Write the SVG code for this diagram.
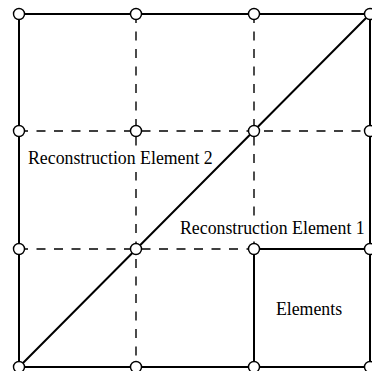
<svg xmlns="http://www.w3.org/2000/svg" width="372" height="371" viewBox="0 0 372 371">
<style>
.solid{stroke:#000;stroke-width:2;fill:none;stroke-linecap:butt}
.dash{stroke:#000;stroke-width:1.4;fill:none;stroke-dasharray:9 8.5}
.pt{fill:#fff;stroke:#000;stroke-width:1.4}
.lbl{font-family:"Liberation Serif","Times New Roman",serif;font-size:17.8px;fill:#000}
.bg{fill:#fff;stroke:none}
</style>
<rect width="372" height="371" fill="#fff"/>
<g id="connectors">
<path class="dash" d="M19 131H370M19 249H254M136 14V367M254 14V249"/>
<rect class="bg" x="25" y="146" width="192" height="26"/>
<rect class="bg" x="177" y="216" width="189" height="25"/>
<path class="solid" d="M19 14H370V367H19ZM254 249H370M254 249V367M19 367L370 14"/>
</g>
<g id="labels">
<text id="re2" class="lbl" x="28" y="164">Reconstruction Element 2</text>
<text id="re1" class="lbl" x="180" y="233.5">Reconstruction Element 1</text>
<text id="elements" class="lbl" x="309" y="315" text-anchor="middle">Elements</text>
</g>
<g id="nodes">
<circle id="n00" class="pt" cx="19" cy="14" r="5.5"/>
<circle id="n10" class="pt" cx="136" cy="14" r="5.5"/>
<circle id="n20" class="pt" cx="254" cy="14" r="5.5"/>
<circle id="n30" class="pt" cx="370" cy="14" r="5.5"/>
<circle id="n01" class="pt" cx="19" cy="131" r="5.5"/>
<circle id="n11" class="pt" cx="136" cy="131" r="5.5"/>
<circle id="n21" class="pt" cx="254" cy="131" r="5.5"/>
<circle id="n31" class="pt" cx="370" cy="131" r="5.5"/>
<circle id="n02" class="pt" cx="19" cy="249" r="5.5"/>
<circle id="n12" class="pt" cx="136" cy="249" r="5.5"/>
<circle id="n22" class="pt" cx="254" cy="249" r="5.5"/>
<circle id="n32" class="pt" cx="370" cy="249" r="5.5"/>
<circle id="n03" class="pt" cx="19" cy="367" r="5.5"/>
<circle id="n13" class="pt" cx="136" cy="367" r="5.5"/>
<circle id="n23" class="pt" cx="254" cy="367" r="5.5"/>
<circle id="n33" class="pt" cx="370" cy="367" r="5.5"/>
</g>
</svg>
